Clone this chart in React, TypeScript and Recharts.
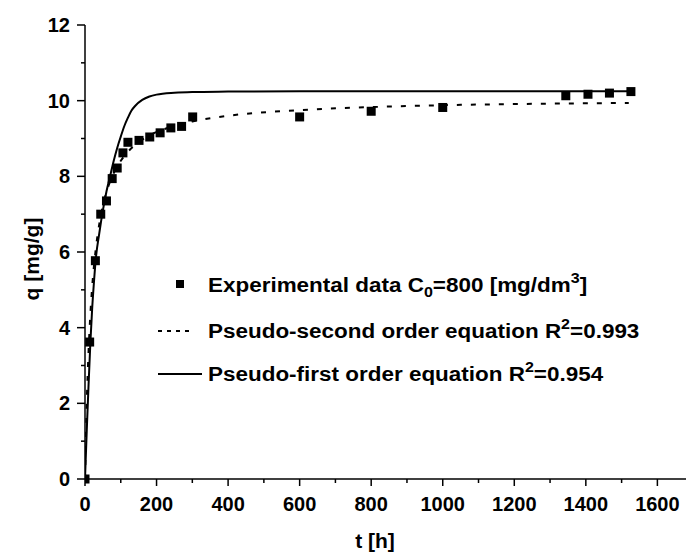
import React from "react";
import { ComposedChart, Line, Scatter, XAxis, YAxis } from "recharts";

// experimental points
const expT = [0, 13, 29, 44, 60, 76, 90, 106, 120, 151, 181, 210, 240, 270, 301, 600, 800, 1000, 1344, 1406, 1466, 1526];
const expQ = [0, 3.62, 5.77, 7.0, 7.35, 7.94, 8.22, 8.62, 8.9, 8.95, 9.04, 9.15, 9.28, 9.32, 9.57, 9.57, 9.72, 9.82, 10.13, 10.17, 10.2, 10.24];

// pseudo-second order curve (dashed)
const secondT = [0, 5, 10, 15, 20, 30, 40, 50, 60, 80, 100, 120, 150, 200, 250, 300, 400, 600, 800, 1000, 1200, 1400, 1520];
const secondQ = [0, 2.04, 3.39, 4.35, 5.07, 6.07, 6.74, 7.22, 7.58, 8.08, 8.41, 8.65, 8.9, 9.17, 9.33, 9.45, 9.6, 9.75, 9.83, 9.88, 9.91, 9.93, 9.94];

// pseudo-first order curve (solid)
const firstT = [0, 5, 10, 15, 20, 25, 30, 40, 50, 60, 70, 80, 90, 100, 110, 120, 130, 140, 160, 180, 200, 250, 300, 400, 600, 1000, 1525];
const firstQ = [0, 1.3, 2.5, 3.6, 4.5, 5.2, 5.8, 6.5, 7.1, 7.6, 8.0, 8.4, 8.75, 9.05, 9.33, 9.55, 9.74, 9.86, 10.02, 10.11, 10.16, 10.21, 10.23, 10.24, 10.25, 10.25, 10.25];

const xTicks = [0, 100, 200, 300, 400, 500, 600, 700, 800, 900, 1000, 1100, 1200, 1300, 1400, 1500, 1600];
const yTicks = [0, 1, 2, 3, 4, 5, 6, 7, 8, 9, 10, 11, 12];

const expData = expT.map((t, i) => ({ t, q: expQ[i] }));
const secondData = secondT.map((t, i) => ({ t, q: secondQ[i] }));
const firstData = firstT.map((t, i) => ({ t, q: firstQ[i] }));

const FONT = '"Liberation Sans", Arial, sans-serif';

const XTick = ({ x, y, payload }: any) => {
    const major = payload.value % 200 === 0;
    return (
        <g>
            <line x1={x} y1={y} x2={x} y2={y + (major ? 7 : 4)} stroke="#000" strokeWidth={1.5} />
            {major && (
                <text x={x} y={y + 32} textAnchor="middle" fontSize={20} fontWeight="bold" fontFamily={FONT} fill="#000">
                    {payload.value}
                </text>
            )}
        </g>
    );
};

const YTick = ({ x, y, payload }: any) => {
    const major = payload.value % 2 === 0;
    return (
        <g>
            <line x1={x} y1={y} x2={x - (major ? 8 : 4)} y2={y} stroke="#000" strokeWidth={1.5} />
            {major && (
                <text x={x - 15} y={y + 7} textAnchor="end" fontSize={20} fontWeight="bold" fontFamily={FONT} fill="#000">
                    {payload.value}
                </text>
            )}
        </g>
    );
};

const Square = (props: any) => (
    <rect x={props.cx - 4.5} y={props.cy - 4.5} width={9} height={9} fill="#000" />
);

const App = () => {
    return (
        <div style={{ position: "absolute", left: 0, top: 0, width: 686, height: 553, background: "#fff" }}>
            <ComposedChart
                width={686}
                height={553}
                margin={{ top: 25, right: 0, bottom: 0, left: 0 }}
            >
                <XAxis
                    type="number"
                    dataKey="t"
                    domain={[0, 1680]}
                    ticks={xTicks}
                    interval={0}
                    height={74}
                    tickSize={0}
                    tickMargin={0}
                    tick={<XTick />}
                    axisLine={{ stroke: "#000", strokeWidth: 1.5 }}
                    allowDataOverflow
                />
                <YAxis
                    type="number"
                    dataKey="q"
                    domain={[0, 12]}
                    ticks={yTicks}
                    interval={0}
                    width={85}
                    tickSize={0}
                    tickMargin={0}
                    tick={<YTick />}
                    axisLine={{ stroke: "#000", strokeWidth: 1.5 }}
                />
                <Line
                    data={secondData}
                    dataKey="q"
                    type="monotone"
                    stroke="#000"
                    strokeWidth={2}
                    strokeDasharray="5 9"
                    dot={false}
                    isAnimationActive={false}
                />
                <Line
                    data={firstData}
                    dataKey="q"
                    type="monotone"
                    stroke="#000"
                    strokeWidth={2}
                    dot={false}
                    isAnimationActive={false}
                />
                <Scatter data={expData} dataKey="q" shape={<Square />} isAnimationActive={false} />
            </ComposedChart>

            <svg
                width={686}
                height={553}
                style={{ position: "absolute", left: 0, top: 0, pointerEvents: "none" }}
                fontFamily={FONT}
                fontWeight="bold"
            >
                {/* axis titles */}
                <text x={375} y={548} textAnchor="middle" fontSize={21}>t [h]</text>
                <text x={39} y={259} textAnchor="middle" fontSize={21} transform="rotate(-90 39 259)">q [mg/g]</text>

                {/* legend */}
                <rect x={176} y={280} width={8} height={8} fill="#000" />
                <g transform="translate(208 292) scale(1.07 1)">
                    <text x={0} y={0} fontSize={21}>
                        Experimental data C<tspan fontSize={15} dy={5}>0</tspan>
                        <tspan dy={-5}>=800 [mg/dm</tspan>
                        <tspan fontSize={15} dy={-9}>3</tspan>
                        <tspan dy={9}>]</tspan>
                    </text>
                </g>

                <line x1={158} y1={331} x2={193} y2={331} stroke="#000" strokeWidth={2} strokeDasharray="4 5" />
                <g transform="translate(208 338) scale(1.07 1)">
                    <text x={0} y={0} fontSize={21}>
                        Pseudo-second order equation R<tspan fontSize={15} dy={-9}>2</tspan>
                        <tspan dy={9}>=0.993</tspan>
                    </text>
                </g>

                <line x1={158} y1={374} x2={202} y2={374} stroke="#000" strokeWidth={2} />
                <g transform="translate(208 381) scale(1.07 1)">
                    <text x={0} y={0} fontSize={21}>
                        Pseudo-first order equation R<tspan fontSize={15} dy={-9}>2</tspan>
                        <tspan dy={9}>=0.954</tspan>
                    </text>
                </g>
            </svg>
        </div>
    );
};

export default App;
